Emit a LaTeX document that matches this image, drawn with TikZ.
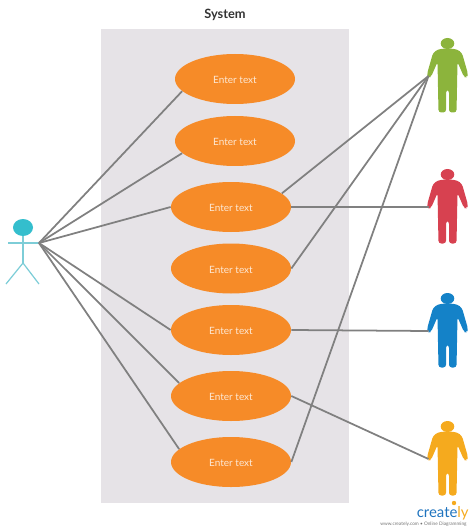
\documentclass[tikz,border=0pt]{standalone}
\usepackage{fontspec}
\setmainfont{Lato}
\usetikzlibrary{shapes.geometric}
\definecolor{sysGray}{RGB}{230,227,231}
\definecolor{caseOrange}{RGB}{246,139,40}
\definecolor{linkGray}{RGB}{128,128,128}
\definecolor{actorCyan}{RGB}{52,190,205}
\definecolor{limbCyan}{RGB}{125,205,215}
\definecolor{manGreen}{RGB}{140,180,60}
\definecolor{manRed}{RGB}{215,65,80}
\definecolor{manBlue}{RGB}{20,130,200}
\definecolor{manYellow}{RGB}{245,170,30}
\definecolor{logoBlue}{RGB}{30,115,190}
\begin{document}
\begin{tikzpicture}[
        x=0.02cm,y=-0.02cm,
        case/.style={ellipse,fill=caseOrange,minimum width=120*0.02cm,minimum height=50*0.02cm,inner sep=0pt,text=white!80!caseOrange,text height=5.4pt,font=\fontsize{5.7}{7}\selectfont},
        link/.style={draw=linkGray,line width=1pt},
        limb/.style={draw=limbCyan,line width=0.7pt},
        person/.pic={
          \fill[rounded corners=1.6pt] (-3,10.5) -- (-10,11.5) -- (-14.5,15) -- (-20.5,36) -- (-19.5,39.5) -- (-16.5,39) -- (-10,24) -- (-9,74.5) -- (-1.5,74.5) -- (-1.5,52) -- (1.5,52) -- (1.5,74.5) -- (9,74.5) -- (10,24) -- (16.5,39) -- (19.5,39.5) -- (20.5,36) -- (14.5,15) -- (10,11.5) -- (3,10.5) -- cycle;
          \fill (0,5.5) ellipse [x radius=6.8,y radius=5.5];
          \coordinate (-hand) at (-19,38);
        }
      ]
        \useasboundingbox (0,0) rectangle (474,530);
        \node[font=\bfseries\fontsize{7.3}{9}\selectfont,text=black!80,text height=5.4pt] (title) at (225,14.5) {System};
        \fill[sysGray] (101,29) rectangle (349,503);
        \node[case] (c1) at (235,79) {Enter text};
        \node[case] (c2) at (235,141) {Enter text};
        \node[case] (c3) at (231,207) {Enter text};
        \node[case] (c4) at (231,268.5) {Enter text};
        \node[case] (c5) at (231,330) {Enter text};
        \node[case] (c6) at (231,396) {Enter text};
        \node[case] (c7) at (231,462) {Enter text};
        \coordinate (hub) at (39,243);
        \fill[actorCyan] (23,227.5) ellipse [x radius=10,y radius=8.5];
        \draw[limb] (8,243) -- (hub);
        \draw[limb] (23,236) -- (23,263);
        \draw[limb] (6,284) -- (23,263) -- (39,284);
        \pic[manGreen] (green) at (447.5,38) {person};
        \pic[manRed] (red) at (447.5,169) {person};
        \pic[manBlue] (blue) at (447.5,293) {person};
        \pic[manYellow] (yellow) at (447.5,421) {person};
        \draw[link] (hub) -- (c1.193);
        \draw[link] (hub) -- (c2.193);
        \draw[link] (hub) -- (c3.west);
        \draw[link] (hub) -- (c5.west);
        \draw[link] (hub) -- (c6.166);
        \draw[link] (hub) -- (c7.166);
        \draw[link] (green-hand) -- (c3.15);
        \draw[link] (green-hand) -- (c4.east);
        \draw[link] (green-hand) -- (c7.east);
        \draw[link] (red-hand) -- (c3.east);
        \draw[link] (blue-hand) -- (c5.east);
        \draw[link] (yellow-hand) -- (c6.east);
        \node[font=\fontsize{8.5}{10}\selectfont,text=logoBlue,inner sep=0pt,anchor=base east] (logo) at (469,517) {create\textcolor{manYellow}{ly}};
        \fill[manYellow] (454,503) circle [radius=2.2];
        \node[font=\fontsize{2.7}{4}\selectfont,text=black!55,inner sep=0pt,anchor=base east] (tag) at (467,525) {www.creately.com • Online Diagramming};
      \end{tikzpicture}
\end{document}
